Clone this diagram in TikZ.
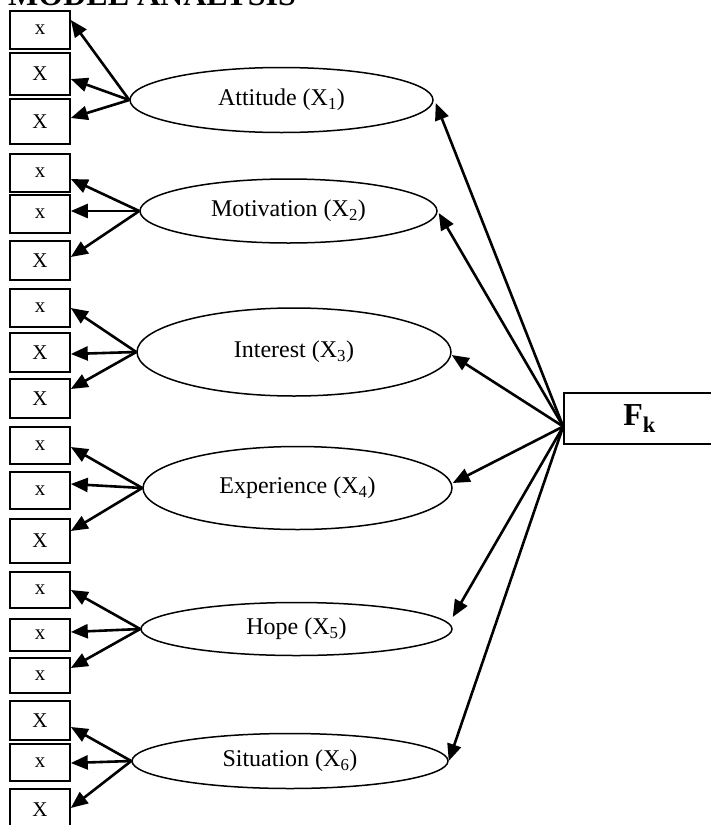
\documentclass[tikz,border=0pt]{standalone}
\usepackage{fontspec}
\setmainfont{Liberation Serif}
\usetikzlibrary{shapes.geometric,arrows.meta,calc}
\begin{document}
\begin{tikzpicture}[x=1pt,y=-1pt,
  obs/.style={draw, line width=1.6pt, rectangle, minimum width=60pt, inner sep=0pt, font=\fontsize{21}{21}\selectfont},
  lat/.style={draw, ellipse, line width=1.5pt, inner sep=0pt, font=\fontsize{24}{24}\selectfont},
  fac/.style={draw, line width=1.6pt, rectangle, inner sep=0pt, font=\fontsize{32}{32}\selectfont\bfseries},
  arr/.style={line width=2.6pt, -{Triangle[length=17pt,width=14pt]}}]
\useasboundingbox (0,0) rectangle (711,825);
\clip (0,0) rectangle (711,825);
\node[anchor=base west, inner sep=0pt, font=\fontsize{32}{32}\selectfont\bfseries] (title) at (8,5) {MODEL ANALYSIS};
% observed boxes
\node[obs, minimum height=38pt] (b1) at (40,30) {x};
\node[obs, minimum height=42pt] (b2) at (40,74) {X};
\node[obs, minimum height=45pt] (b3) at (40,121.5) {X};
\node[obs, minimum height=38pt] (b4) at (40,173) {x};
\node[obs, minimum height=38pt] (b5) at (40,214) {x};
\node[obs, minimum height=39pt] (b6) at (40,260.5) {X};
\node[obs, minimum height=38pt] (b7) at (40,308) {x};
\node[obs, minimum height=39pt] (b8) at (40,352.5) {X};
\node[obs, minimum height=39pt] (b9) at (40,398.5) {X};
\node[obs, minimum height=37pt] (b10) at (40,445.5) {x};
\node[obs, minimum height=37pt] (b11) at (40,490.5) {x};
\node[obs, minimum height=44pt] (b12) at (40,541) {X};
\node[obs, minimum height=36pt] (b13) at (40,590) {x};
\node[obs, minimum height=32pt] (b14) at (40,635) {x};
\node[obs, minimum height=35pt] (b15) at (40,675.5) {x};
\node[obs, minimum height=39pt] (b16) at (40,720.5) {X};
\node[obs, minimum height=37pt] (b17) at (40,762.5) {x};
\node[obs, minimum height=42pt] (b18) at (40,810) {X};
% latent ellipses
\node[lat, minimum width=303pt, minimum height=65pt] (e1) at (281.5,100) {Attitude (X\textsubscript{1})};
\node[lat, minimum width=297pt, minimum height=64pt] (e2) at (288.5,211) {Motivation (X\textsubscript{2})};
\node[lat, minimum width=314pt, minimum height=88pt] (e3) at (294,352) {Interest (X\textsubscript{3})};
\node[lat, minimum width=309pt, minimum height=83pt] (e4) at (297.5,488) {Experience (X\textsubscript{4})};
\node[lat, minimum width=311pt, minimum height=53pt] (e5) at (296.5,629) {Hope (X\textsubscript{5})};
\node[lat, minimum width=316pt, minimum height=55pt] (e6) at (290,761) {Situation (X\textsubscript{6})};
% factor box
\node[fac, minimum width=151pt, minimum height=51pt] (fk) at (639.5,418.5) {F\textsubscript{k}};
\coordinate (fo) at ($(fk.west)+(0,8)$);
% arrows ellipse -> boxes
\draw[arr] (e1.west) -- ($(b1.east)+(0,-10)$);
\draw[arr] (e1.west) -- ($(b2.east)+(0,5)$);
\draw[arr] (e1.west) -- ($(b3.east)+(0,-3.5)$);
\draw[arr] (e2.west) -- ($(b4.east)+(0,6)$);
\draw[arr] (e2.west) -- ($(b5.east)+(0,-3)$);
\draw[arr] (e2.west) -- ($(b6.east)+(0,-3.5)$);
\draw[arr] (e3.west) -- (b7.east);
\draw[arr] (e3.west) -- ($(b8.east)+(0,1.5)$);
\draw[arr] (e3.west) -- ($(b9.east)+(0,-9.5)$);
\draw[arr] (e4.west) -- ($(b10.east)+(0,1.5)$);
\draw[arr] (e4.west) -- ($(b11.east)+(0,-6.5)$);
\draw[arr] (e4.west) -- ($(b12.east)+(0,-10)$);
\draw[arr] (e5.west) -- (b13.east);
\draw[arr] (e5.west) -- ($(b14.east)+(0,-3)$);
\draw[arr] (e5.west) -- ($(b15.east)+(0,-7.5)$);
\draw[arr] (e6.west) -- ($(b16.east)+(0,6.5)$);
\draw[arr] (e6.west) -- ($(b17.east)+(0,0.5)$);
\draw[arr] (e6.west) -- ($(b18.east)+(0,-2)$);
% arrows factor -> ellipses
\draw[arr] (fo) -- ($(e1.east)+(2,3)$);
\draw[arr] (fo) -- ($(e2.east)+(1,2)$);
\draw[arr] (fo) -- ($(e3.east)+(0,3)$);
\draw[arr] (fo) -- ($(e4.east)+(0,-5)$);
\draw[arr] (fo) -- ($(e5.east)+(0,-12)$);
\draw[arr] (fo) -- (e6.east);
\end{tikzpicture}
\end{document}
